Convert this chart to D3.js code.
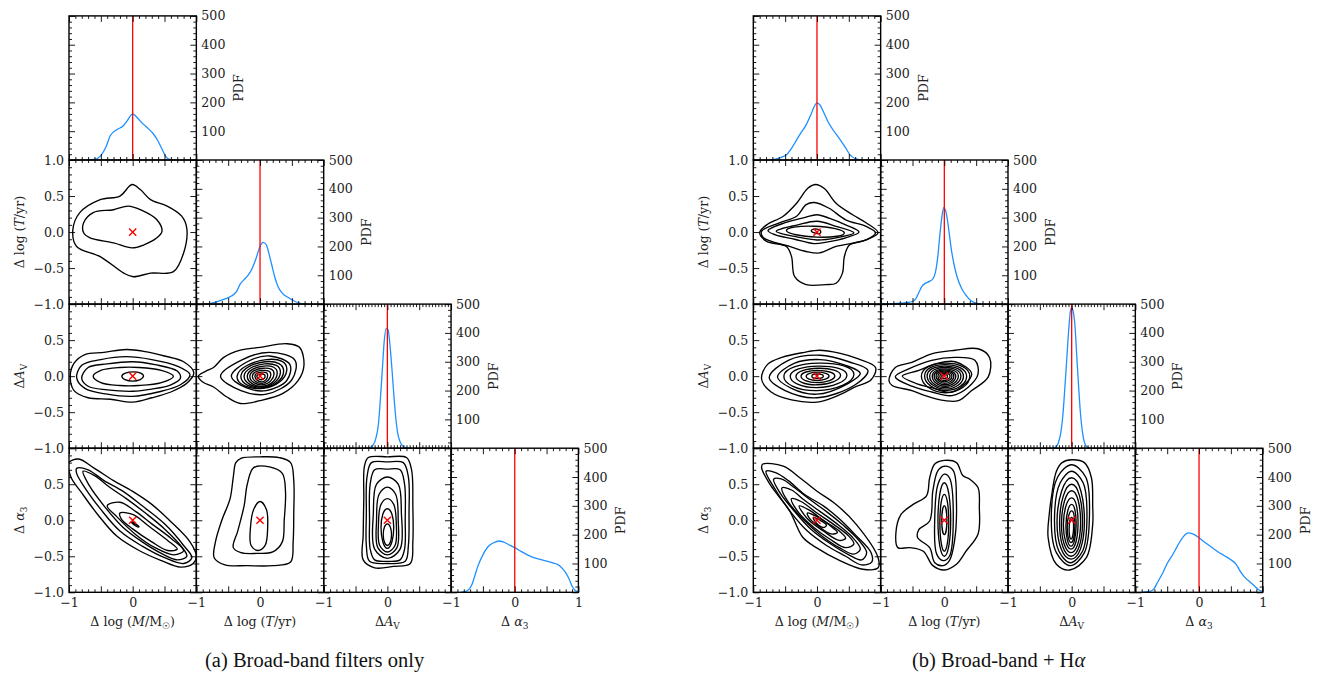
<!DOCTYPE html>
<html><head><meta charset="utf-8">
<script src="https://cdn.jsdelivr.net/npm/d3@7"></script>
<style>body{margin:0;background:#fff}svg{display:block} text{font-family:'DejaVu Serif','Liberation Serif',serif}</style>
</head><body>
<svg id="c" width="1320" height="674"></svg>
<script>
// ---------------- DATA ----------------
const xMajorTicks = [-1, -0.5, 0, 0.5, 1];
const yMajorTicks = [-1, -0.5, 0, 0.5, 1];
const pdfMajorTicks = [0, 100, 200, 300, 400, 500];
const xTickLabels = [-1, 0, 1];
const yTickLabels = [-1, -0.5, 0, 0.5, 1];
const pdfTickLabels = [100, 200, 300, 400, 500];
const captions = ["(a) Broad-band filters only", "(b) Broad-band + H"];

// 1D PDFs  [x, pdf]
const pdfA_M = [[-0.7,0],[-0.6,2],[-0.5,15],[-0.42,45],[-0.35,85],[-0.25,105],[-0.15,118],[-0.08,138],[0,160],[0.08,145],[0.15,128],[0.25,108],[0.32,92],[0.4,65],[0.46,38],[0.52,12],[0.58,2],[0.66,0]];
const pdfA_T = [[-0.9,0],[-0.8,2],[-0.68,8],[-0.55,18],[-0.45,28],[-0.37,43],[-0.31,70],[-0.25,85],[-0.18,102],[-0.12,125],[-0.06,160],[0,200],[0.05,214],[0.1,205],[0.14,175],[0.18,140],[0.23,95],[0.28,62],[0.35,38],[0.45,22],[0.55,9],[0.65,2],[0.75,0]];
const pdfA_AV = [[-0.36,0],[-0.28,2],[-0.22,12],[-0.18,35],[-0.14,85],[-0.11,170],[-0.08,270],[-0.05,370],[-0.02,415],[0.01,412],[0.04,360],[0.07,280],[0.1,190],[0.13,110],[0.16,55],[0.2,22],[0.25,6],[0.3,1],[0.36,0]];
const pdfA_a3 = [[-0.85,0],[-0.78,2],[-0.72,10],[-0.67,28],[-0.63,55],[-0.58,90],[-0.5,130],[-0.42,158],[-0.33,172],[-0.25,178],[-0.18,175],[-0.1,166],[0,155],[0.1,142],[0.2,130],[0.3,120],[0.4,114],[0.5,108],[0.6,102],[0.68,96],[0.75,82],[0.8,68],[0.85,48],[0.9,22],[0.95,6],[1.0,1]];
const pdfB_M = [[-0.75,0],[-0.65,3],[-0.55,10],[-0.47,20],[-0.4,40],[-0.32,70],[-0.25,95],[-0.17,122],[-0.1,155],[-0.05,182],[0,198],[0.05,190],[0.1,168],[0.18,130],[0.25,105],[0.35,75],[0.45,42],[0.52,18],[0.6,5],[0.7,0]];
const pdfB_T = [[-1,0],[-0.8,2],[-0.6,5],[-0.5,9],[-0.45,18],[-0.4,40],[-0.35,62],[-0.3,72],[-0.24,78],[-0.18,88],[-0.14,110],[-0.1,170],[-0.07,240],[-0.04,300],[-0.01,335],[0.02,325],[0.05,290],[0.08,240],[0.11,190],[0.15,140],[0.2,95],[0.27,55],[0.35,28],[0.42,12],[0.5,3],[0.58,0]];
const pdfB_AV = [[-0.3,0],[-0.25,4],[-0.21,18],[-0.17,55],[-0.14,110],[-0.11,200],[-0.08,300],[-0.05,400],[-0.02,475],[0,488],[0.02,478],[0.05,430],[0.08,320],[0.11,210],[0.14,115],[0.17,55],[0.2,20],[0.24,5],[0.3,0]];
const pdfB_a3 = [[-0.9,0],[-0.8,2],[-0.72,9],[-0.65,35],[-0.57,67],[-0.5,100],[-0.41,132],[-0.34,160],[-0.28,183],[-0.22,200],[-0.17,206],[-0.1,203],[0,189],[0.1,172],[0.2,156],[0.3,140],[0.4,127],[0.5,113],[0.58,98],[0.65,72],[0.72,52],[0.8,36],[0.87,22],[0.93,10],[1.0,3]];

// 2D contours, each a closed list of [x, y] points
const contA_T_M = [
 [[-0.01,0.66],[0.12,0.59],[0.28,0.45],[0.54,0.36],[0.77,0.22],[0.85,0.05],[0.8,-0.29],[0.64,-0.55],[0.28,-0.57],[0.01,-0.62],[-0.14,-0.57],[-0.51,-0.34],[-0.88,-0.2],[-0.94,0.03],[-0.83,0.27],[-0.51,0.45],[-0.2,0.5]],
 [[-0.77,0.13],[-0.62,0.27],[-0.3,0.31],[-0.07,0.36],[0.12,0.31],[0.38,0.17],[0.46,0.01],[0.38,-0.08],[0.17,-0.18],[-0.01,-0.22],[-0.3,-0.15],[-0.67,-0.08],[-0.77,-0.01]]
];
const contA_AV_M = [
 [[-0.98,0.0],[-0.92,0.18],[-0.75,0.3],[-0.45,0.33],[-0.1,0.37],[0.2,0.34],[0.5,0.28],[0.8,0.2],[0.96,0.05],[0.85,-0.1],[0.6,-0.22],[0.3,-0.3],[0,-0.36],[-0.35,-0.32],[-0.7,-0.3],[-0.92,-0.2]],
 [[-0.88,-0.02],[-0.8,0.15],[-0.5,0.23],[-0.1,0.27],[0.3,0.23],[0.7,0.14],[0.9,0.02],[0.75,-0.12],[0.4,-0.22],[0,-0.28],[-0.4,-0.25],[-0.75,-0.17]],
 [[-0.8,-0.03],[-0.7,0.12],[-0.4,0.17],[0,0.2],[0.35,0.16],[0.7,0.07],[0.75,-0.03],[0.6,-0.12],[0.3,-0.18],[0,-0.21],[-0.4,-0.19],[-0.7,-0.14]],
 [[-0.62,0.0],[-0.5,0.08],[-0.2,0.12],[0.1,0.12],[0.45,0.08],[0.64,0.0],[0.45,-0.09],[0.1,-0.13],[-0.2,-0.13],[-0.5,-0.09]],
 [[-0.17,0.0],[0.01,0.06],[0.17,0.0],[0.0,-0.07]]
];
const contA_AV_T = [
 [[-0.97,0.0],[-0.85,0.07],[-0.73,0.12],[-0.57,0.26],[-0.31,0.36],[0,0.4],[0.42,0.45],[0.62,0.4],[0.69,0.15],[0.6,-0.06],[0.36,-0.24],[0,-0.34],[-0.31,-0.38],[-0.52,-0.29],[-0.73,-0.15],[-0.9,-0.08]],
 [[-0.62,0.0],[-0.3,0.22],[0.15,0.33],[0.55,0.22],[0.5,-0.05],[0.1,-0.25],[-0.3,-0.2]],
 [[-0.45,0.0],[-0.2,0.2],[0.15,0.28],[0.47,0.16],[0.42,-0.06],[0.1,-0.2],[-0.22,-0.16]],
 [[-0.36,0.0],[0.1,0.23],[0.42,0.08],[0.05,-0.17]],
 [[-0.3,0.0],[0.08,0.2],[0.37,0.06],[0.05,-0.16]],
 [[-0.25,0.0],[0.07,0.17],[0.32,0.05],[0.05,-0.15]],
 [[-0.2,0.0],[0.06,0.14],[0.27,0.04],[0.05,-0.14]],
 [[-0.16,0.0],[0.05,0.11],[0.22,0.03],[0.04,-0.12]],
 [[-0.12,0.0],[0.04,0.08],[0.17,0.02],[0.03,-0.1]],
 [[-0.08,0.0],[0.03,0.055],[0.12,0.01],[0.03,-0.08]],
 [[-0.05,0.0],[0.02,0.03],[0.08,0.0],[0.02,-0.05]]
];
const contA_a3_M = [
 [[-1,0.8],[-0.85,0.85],[-0.6,0.72],[-0.3,0.55],[0.0,0.4],[0.3,0.22],[0.6,-0.02],[0.9,-0.3],[1.0,-0.5],[0.95,-0.6],[0.75,-0.65],[0.45,-0.56],[0.1,-0.42],[-0.25,-0.22],[-0.55,0.08],[-0.8,0.38],[-0.97,0.6]],
 [[-0.88,0.72],[-0.7,0.7],[-0.45,0.55],[-0.15,0.4],[0.15,0.2],[0.5,-0.05],[0.8,-0.35],[0.93,-0.52],[0.8,-0.6],[0.5,-0.52],[0.15,-0.36],[-0.2,-0.15],[-0.5,0.15],[-0.75,0.45],[-0.88,0.65]],
 [[-0.78,0.68],[-0.6,0.62],[-0.35,0.45],[-0.1,0.3],[0.2,0.1],[0.5,-0.12],[0.78,-0.38],[0.85,-0.5],[0.7,-0.55],[0.45,-0.46],[0.15,-0.3],[-0.15,-0.1],[-0.45,0.2],[-0.68,0.48]],
 [[-0.4,0.2],[-0.2,0.25],[0.05,0.12],[0.3,-0.05],[0.6,-0.25],[0.8,-0.42],[0.65,-0.48],[0.35,-0.38],[0.05,-0.2],[-0.25,0.05]],
 [[-0.2,0.1],[0.0,0.08],[0.25,-0.08],[0.55,-0.28],[0.7,-0.4],[0.55,-0.42],[0.3,-0.3],[0.0,-0.12],[-0.18,0.02]],
 [[-0.02,-0.02],[0.06,-0.06],[0.1,-0.09],[0.05,-0.08]]
];
const contA_a3_T = [
 [[-0.3,0.86],[0.0,0.88],[0.3,0.87],[0.48,0.8],[0.53,0.55],[0.53,0.1],[0.52,-0.3],[0.48,-0.58],[0.2,-0.63],[-0.2,-0.63],[-0.55,-0.62],[-0.72,-0.52],[-0.7,-0.3],[-0.6,0.0],[-0.47,0.3],[-0.42,0.6],[-0.38,0.8]],
 [[-0.1,0.73],[0.15,0.74],[0.35,0.65],[0.4,0.4],[0.38,0.0],[0.35,-0.3],[0.2,-0.44],[-0.05,-0.46],[-0.3,-0.45],[-0.42,-0.38],[-0.35,-0.15],[-0.25,0.2],[-0.2,0.5]],
 [[0.0,0.26],[0.1,0.15],[0.12,-0.1],[0.08,-0.35],[-0.03,-0.42],[-0.14,-0.35],[-0.15,-0.1],[-0.1,0.15]]
];
const contA_a3_AV = [
 [[-0.3,0.87],[0.0,0.88],[0.3,0.87],[0.38,0.7],[0.4,0.2],[0.4,-0.3],[0.36,-0.6],[0.1,-0.64],[-0.2,-0.66],[-0.38,-0.55],[-0.38,-0.2],[-0.37,0.3],[-0.36,0.75]],
 [[-0.25,0.8],[0,0.81],[0.25,0.8],[0.33,0.6],[0.34,0.1],[0.33,-0.35],[0.28,-0.57],[0,-0.6],[-0.28,-0.57],[-0.33,-0.35],[-0.33,0.1],[-0.32,0.6]],
 [[-0.2,0.7],[0,0.71],[0.2,0.7],[0.27,0.5],[0.28,0.0],[0.27,-0.4],[0.2,-0.55],[0,-0.57],[-0.2,-0.55],[-0.27,-0.4],[-0.28,0.0],[-0.27,0.5]],
 [[0,0.6],[0.17,0.5],[0.22,0.1],[0.2,-0.4],[0,-0.53],[-0.2,-0.4],[-0.22,0.1],[-0.17,0.5]],
 [[0,0.46],[0.13,0.36],[0.17,0.0],[0.15,-0.38],[0,-0.48],[-0.15,-0.38],[-0.17,0],[-0.13,0.36]],
 [[0,0.3],[0.1,0.22],[0.14,-0.05],[0.12,-0.35],[0,-0.44],[-0.12,-0.35],[-0.14,-0.05],[-0.1,0.22]],
 [[-0.1,-0.1],[0,0.16],[0.1,-0.1],[0,-0.39]],
 [[-0.065,-0.2],[0,-0.05],[0.065,-0.2],[0,-0.35]]
];
const contB_T_M = [
 [[-0.02,0.66],[0.12,0.6],[0.3,0.4],[0.56,0.24],[0.77,0.13],[0.96,-0.01],[0.77,-0.11],[0.51,-0.18],[0.43,-0.34],[0.4,-0.57],[0.3,-0.71],[0.14,-0.73],[-0.17,-0.73],[-0.35,-0.62],[-0.4,-0.34],[-0.48,-0.2],[-0.79,-0.13],[-0.9,-0.01],[-0.79,0.1],[-0.53,0.22],[-0.32,0.4],[-0.14,0.61]],
 [[-0.04,0.41],[0.19,0.33],[0.45,0.17],[0.77,0.08],[0.92,-0.01],[0.77,-0.11],[0.3,-0.2],[0.04,-0.29],[-0.17,-0.27],[-0.43,-0.2],[-0.84,-0.08],[-0.87,0.01],[-0.58,0.13],[-0.32,0.22],[-0.17,0.38]],
 [[-0.77,0.02],[-0.5,0.13],[-0.2,0.2],[0.0,0.24],[0.2,0.19],[0.45,0.1],[0.66,0.0],[0.45,-0.08],[0.15,-0.14],[-0.05,-0.16],[-0.35,-0.1],[-0.65,-0.04]],
 [[-0.64,0.01],[-0.3,0.1],[0,0.15],[0.3,0.08],[0.58,-0.01],[0.3,-0.08],[0,-0.11],[-0.3,-0.07]],
 [[-0.48,0.02],[-0.04,0.08],[0.43,-0.01],[0,-0.07]],
 [[-0.09,0.02],[0,0.04],[0.06,0.0],[0,-0.02]]
];
const contB_AV_M = [
 [[-0.87,-0.04],[-0.78,0.16],[-0.55,0.26],[-0.2,0.33],[0.04,0.36],[0.35,0.32],[0.65,0.24],[0.92,0.12],[0.85,-0.05],[0.6,-0.15],[0.3,-0.28],[0.0,-0.36],[-0.4,-0.33],[-0.72,-0.22]],
 [[-0.75,-0.02],[-0.45,0.22],[0.05,0.29],[0.5,0.2],[0.8,0.08],[0.6,-0.12],[0.0,-0.3],[-0.5,-0.2]],
 [[-0.62,-0.01],[-0.35,0.18],[0.05,0.23],[0.45,0.15],[0.68,0.04],[0.45,-0.12],[0.0,-0.25],[-0.4,-0.17]],
 [[-0.52,0.0],[0.03,0.18],[0.58,0.02],[0.0,-0.2]],
 [[-0.42,0.0],[0.02,0.14],[0.47,0.01],[0.0,-0.16]],
 [[-0.33,0.0],[0.02,0.11],[0.37,0.01],[0.0,-0.12]],
 [[-0.25,0.0],[0.01,0.08],[0.28,0.0],[0.0,-0.09]],
 [[-0.17,0.0],[0.01,0.055],[0.19,0.0],[0.0,-0.06]],
 [[-0.08,0.0],[0.0,0.03],[0.1,0.0],[0.0,-0.03]]
];
const contB_AV_T = [
 [[-0.87,-0.06],[-0.77,0.12],[-0.51,0.19],[-0.2,0.31],[0.17,0.36],[0.53,0.38],[0.71,0.26],[0.69,-0.01],[0.43,-0.2],[0.22,-0.34],[0.01,-0.34],[-0.3,-0.27],[-0.51,-0.2],[-0.82,-0.13]],
 [[-0.77,-0.01],[-0.56,0.1],[-0.2,0.22],[0.17,0.26],[0.48,0.22],[0.53,0.03],[0.38,-0.15],[0.12,-0.27],[-0.2,-0.22],[-0.51,-0.14]],
 [[-0.66,0.0],[-0.4,0.08],[-0.14,0.17],[0.17,0.2],[0.43,0.03],[0.12,-0.22],[-0.2,-0.16],[-0.45,-0.1]],
 [[-0.36,0.0],[0.02,0.18],[0.4,0.0],[0.02,-0.23]],
 [[-0.31,0.0],[0.01,0.16],[0.35,0.0],[0.02,-0.2]],
 [[-0.27,0.0],[0.01,0.14],[0.3,0.0],[0.02,-0.18]],
 [[-0.23,0.0],[0.01,0.12],[0.26,0.0],[0.01,-0.16]],
 [[-0.19,0.0],[0.01,0.1],[0.22,0.0],[0.01,-0.14]],
 [[-0.16,0.0],[0.0,0.085],[0.18,0.0],[0.01,-0.12]],
 [[-0.13,0.0],[0.0,0.07],[0.15,0.0],[0.01,-0.1]],
 [[-0.1,0.0],[0.0,0.055],[0.12,0.0],[0.0,-0.08]],
 [[-0.07,0.0],[0.0,0.04],[0.09,0.0],[0.0,-0.06]],
 [[-0.04,0.0],[0.0,0.025],[0.05,0.0],[0.0,-0.035]]
];
const contB_a3_M = [
 [[-0.87,0.73],[-0.85,0.78],[-0.53,0.75],[-0.27,0.59],[-0.01,0.41],[0.3,0.22],[0.62,-0.06],[0.96,-0.52],[0.96,-0.66],[0.72,-0.68],[0.36,-0.56],[-0.01,-0.38],[-0.22,-0.24],[-0.43,0.13],[-0.74,0.5]],
 [[-0.8,0.68],[-0.65,0.66],[-0.45,0.55],[-0.2,0.36],[0.1,0.2],[0.35,0.02],[0.6,-0.2],[0.85,-0.45],[0.86,-0.58],[0.7,-0.62],[0.45,-0.5],[0.15,-0.35],[-0.15,-0.15],[-0.4,0.1],[-0.65,0.42]],
 [[-0.68,0.57],[-0.55,0.57],[-0.35,0.45],[-0.1,0.28],[0.15,0.12],[0.4,-0.06],[0.65,-0.27],[0.78,-0.45],[0.7,-0.55],[0.5,-0.48],[0.2,-0.32],[-0.1,-0.12],[-0.35,0.12],[-0.58,0.38]],
 [[-0.55,0.45],[-0.4,0.42],[-0.2,0.28],[0.05,0.12],[0.3,-0.04],[0.55,-0.23],[0.68,-0.4],[0.58,-0.47],[0.35,-0.38],[0.05,-0.2],[-0.2,0.0],[-0.45,0.25]],
 [[-0.4,0.3],[-0.25,0.26],[0.0,0.1],[0.25,-0.05],[0.5,-0.22],[0.58,-0.33],[0.45,-0.38],[0.2,-0.26],[-0.05,-0.1],[-0.3,0.12]],
 [[-0.28,0.2],[-0.12,0.14],[0.1,0.0],[0.35,-0.15],[0.45,-0.25],[0.35,-0.28],[0.1,-0.15],[-0.15,0.02]],
 [[-0.15,0.1],[0,0.05],[0.2,-0.07],[0.32,-0.17],[0.22,-0.19],[0.02,-0.08],[-0.12,0.03]],
 [[-0.06,0.04],[0.05,0.0],[0.15,-0.07],[0.1,-0.1],[0.0,-0.05]]
];
const contB_a3_T = [
 [[0.0,0.83],[0.19,0.8],[0.29,0.62],[0.4,0.57],[0.53,0.45],[0.55,0.18],[0.53,-0.19],[0.34,-0.43],[0.19,-0.61],[0.0,-0.69],[-0.18,-0.63],[-0.33,-0.43],[-0.54,-0.38],[-0.73,-0.38],[-0.76,-0.17],[-0.68,0.08],[-0.49,0.22],[-0.28,0.34],[-0.23,0.59],[-0.15,0.78]],
 [[0.0,0.75],[0.14,0.69],[0.19,0.27],[0.16,-0.29],[0.08,-0.56],[-0.02,-0.63],[-0.15,-0.59],[-0.23,-0.38],[-0.42,-0.24],[-0.4,-0.13],[-0.23,-0.01],[-0.18,0.41],[-0.1,0.69]],
 [[0.0,0.64],[0.08,0.59],[0.14,-0.01],[0.08,-0.5],[-0.02,-0.56],[-0.12,-0.47],[-0.15,0.04],[-0.1,0.5]],
 [[-0.1,0.0],[0,0.52],[0.1,0.0],[0,-0.5]],
 [[-0.07,-0.03],[0,0.36],[0.07,-0.03],[0,-0.43]],
 [[-0.04,0.0],[0,0.2],[0.04,0.0],[0,-0.2]]
];
const contB_a3_AV = [
 [[0.0,0.84],[0.2,0.8],[0.31,0.59],[0.33,0.2],[0.33,-0.06],[0.23,-0.52],[-0.03,-0.69],[-0.24,-0.61],[-0.37,-0.24],[-0.35,0.1],[-0.32,0.31],[-0.24,0.68],[-0.15,0.8]],
 [[0,0.77],[0.22,0.6],[0.28,0.1],[0.2,-0.45],[-0.02,-0.63],[-0.24,-0.45],[-0.32,0.0],[-0.22,0.6]],
 [[0,0.68],[0.18,0.52],[0.24,0.05],[0.17,-0.43],[-0.02,-0.59],[-0.2,-0.43],[-0.27,0.0],[-0.18,0.52]],
 [[-0.23,-0.02],[0,0.59],[0.2,-0.02],[-0.01,-0.54]],
 [[-0.19,-0.03],[0,0.5],[0.17,-0.03],[-0.01,-0.5]],
 [[-0.16,-0.04],[0,0.41],[0.14,-0.04],[-0.01,-0.45]],
 [[-0.13,-0.05],[0,0.31],[0.1,-0.05],[-0.01,-0.4]],
 [[-0.09,-0.07],[0,0.22],[0.07,-0.07],[-0.01,-0.36]],
 [[-0.07,-0.09],[0,0.13],[0.05,-0.09],[-0.01,-0.31]],
 [[-0.04,-0.11],[0,0.04],[0.03,-0.11],[-0.01,-0.26]]
];
const truth = [0, 0];

// ---------------- LAYOUT ----------------
const W = 127.35, H = 144.1, TOP = 15.9;
const FONT = "'DejaVu Serif', 'Liberation Serif', serif";
const CAPFONT = "'Liberation Serif', 'Times New Roman', serif";
const figs = [
  {x0: 69, capX: 205, cap: captions[0], alpha: false,
   pdfs: [pdfA_M, pdfA_T, pdfA_AV, pdfA_a3],
   cont: {"1,0": contA_T_M, "2,0": contA_AV_M, "2,1": contA_AV_T, "3,0": contA_a3_M, "3,1": contA_a3_T, "3,2": contA_a3_AV}},
  {x0: 753.3, capX: 912, cap: captions[1], alpha: true,
   pdfs: [pdfB_M, pdfB_T, pdfB_AV, pdfB_a3],
   cont: {"1,0": contB_T_M, "2,0": contB_AV_M, "2,1": contB_AV_T, "3,0": contB_a3_M, "3,1": contB_a3_T, "3,2": contB_a3_AV}}
];

const svg = d3.select("#c");
const defs = svg.append("defs");
const r2 = v => Math.round(v * 1000) / 1000;
const rangeStep = (a, b, s) => d3.range(Math.round((b - a) / s) + 1).map(i => r2(a + i * s));
const minus = s => s.replace("-", "\u2212");
const has = (arr, d) => arr.some(v => Math.abs(v - d) < 1e-9);

function drawAxis(parent, gen, scale, tf, values, size, labels, fmt, pad) {
  const ax = gen(scale).tickValues(values).tickSizeInner(-size).tickSizeOuter(0).tickPadding(pad)
    .tickFormat(d => labels && has(labels, d) ? fmt(d) : "");
  const g = parent.append("g").attr("transform", tf).call(ax);
  g.attr("font-family", null).attr("font-size", null);
  g.select(".domain").remove();
  g.selectAll("line").attr("stroke", "#000").attr("stroke-width", 0.9);
  g.selectAll("text").attr("fill", "#222").style("font-family", FONT).style("font-size", "12.6px");
}

const fmtX = d => minus(String(d));
const fmtY = d => minus(d.toFixed(1));
const fmtP = d => String(d);

function contourPath(x, y) {
  return pts => {
    const curve = pts.length <= 4 ? d3.curveCardinalClosed.tension(-0.66) : d3.curveCatmullRomClosed.alpha(0.5);
    return d3.line().x(d => x(d[0])).y(d => y(d[1])).curve(curve)(pts);
  };
}

figs.forEach((f, fi) => {
  for (let r = 0; r < 4; r++) for (let c = 0; c <= r; c++) {
    const px = f.x0 + c * W, py = TOP + r * H;
    const diag = r === c;
    const x = d3.scaleLinear().domain([-1, 1]).range([px, px + W]);
    const y = diag ? d3.scaleLinear().domain([0, 500]).range([py + H, py])
                   : d3.scaleLinear().domain([-1, 1]).range([py + H, py]);
    const id = `clip${fi}${r}${c}`;
    defs.append("clipPath").attr("id", id).append("rect")
      .attr("x", px).attr("y", py).attr("width", W).attr("height", H);
    const g = svg.append("g");
    const content = g.append("g").attr("clip-path", `url(#${id})`);
    if (diag) {
      content.append("path").datum(f.pdfs[r])
        .attr("d", d3.line().x(d => x(d[0])).y(d => y(d[1])).curve(d3.curveMonotoneX))
        .attr("fill", "none").attr("stroke", "#1e90ff").attr("stroke-width", 1.3);
      content.append("line").attr("x1", x(truth[0])).attr("x2", x(truth[0]))
        .attr("y1", y(0)).attr("y2", y(500)).attr("stroke", "#ff0000").attr("stroke-width", 1.3);
    } else {
      const cp = contourPath(x, y);
      content.selectAll("path.ct").data(f.cont[`${r},${c}`]).join("path").attr("class", "ct")
        .attr("d", cp).attr("fill", "none").attr("stroke", "#000").attr("stroke-width", 1.35)
        .attr("stroke-linejoin", "round");
      const cx = x(truth[0]), cy = y(truth[1]), s = 3.6;
      content.append("path").attr("d", `M${cx - s},${cy - s}L${cx + s},${cy + s}M${cx - s},${cy + s}L${cx + s},${cy - s}`)
        .attr("stroke", "#ff0000").attr("stroke-width", 1.4).attr("fill", "none");
    }
    // ticks
    const xMinorStep = diag && r === 2 ? 0.05 : 0.1;
    const xMinor = rangeStep(-1, 1, xMinorStep).filter(v => !has(xMajorTicks, v));
    const yMaj = diag ? pdfMajorTicks : yMajorTicks;
    const yMinor = diag ? rangeStep(0, 500, 20).filter(v => !has(pdfMajorTicks, v))
                        : rangeStep(-1, 1, 0.1).filter(v => !has(yMajorTicks, v));
    const xLab = r === 3 ? (c === 3 ? xTickLabels : [-1, 0]) : null;
    const yLab = (!diag && c === 0) ? (r === 1 ? yTickLabels : yTickLabels.filter(v => v < 1)) : null;
    const pLab = diag ? pdfTickLabels : null;
    drawAxis(g, d3.axisBottom, x, `translate(0,${py + H})`, xMajorTicks, 6, xLab, fmtX, 6);
    drawAxis(g, d3.axisBottom, x, `translate(0,${py + H})`, xMinor, 3, null, fmtX, 6);
    drawAxis(g, d3.axisTop, x, `translate(0,${py})`, xMajorTicks, 6, null, fmtX, 6);
    drawAxis(g, d3.axisTop, x, `translate(0,${py})`, xMinor, 3, null, fmtX, 6);
    drawAxis(g, d3.axisLeft, y, `translate(${px},0)`, yMaj, 6, yLab, fmtY, 5);
    drawAxis(g, d3.axisLeft, y, `translate(${px},0)`, yMinor, 3, null, fmtY, 5);
    drawAxis(g, d3.axisRight, y, `translate(${px + W},0)`, yMaj, 6, pLab, fmtP, 5);
    drawAxis(g, d3.axisRight, y, `translate(${px + W},0)`, yMinor, 3, null, fmtP, 5);
    g.append("rect").attr("x", px).attr("y", py).attr("width", W).attr("height", H)
      .attr("fill", "none").attr("stroke", "#000").attr("stroke-width", 1.4);
    if (diag) {
      g.append("text").attr("transform", `translate(${px + W + 47},${py + H / 2}) rotate(-90)`)
        .attr("text-anchor", "middle").style("font-family", FONT).style("font-size", "12.6px")
        .attr("fill", "#222").text("PDF");
    }
  }
  // axis titles
  const lab = (t, parts) => { parts.forEach(p => { const s = t.append("tspan").text(p.t);
      if (p.i) s.style("font-style", "italic");
      if (p.sub) s.style("font-size", "9px").attr("dy", 3);
      if (p.up) s.attr("dy", -3); }); };
  const xTitles = [
    [{t: "\u0394 log ("}, {t: "M", i: 1}, {t: "/M"}, {t: "\u2609", sub: 1}, {t: ")", up: 1}],
    [{t: "\u0394 log ("}, {t: "T", i: 1}, {t: "/yr)"}],
    [{t: "\u0394"}, {t: "A", i: 1}, {t: "V", sub: 1}],
    [{t: "\u0394 "}, {t: "\u03b1", i: 1}, {t: "3", sub: 1}]
  ];
  xTitles.forEach((p, c) => {
    const t = svg.append("text").attr("x", f.x0 + c * W + W / 2).attr("y", 626)
      .attr("text-anchor", "middle").style("font-family", FONT).style("font-size", "12.6px").attr("fill", "#222");
    lab(t, p);
  });
  [1, 2, 3].forEach(r => {
    const t = svg.append("text").attr("transform", `translate(${f.x0 - 45},${TOP + r * H + H / 2}) rotate(-90)`)
      .attr("text-anchor", "middle").style("font-family", FONT).style("font-size", "12.6px").attr("fill", "#222");
    lab(t, xTitles[r]);
  });
  const cap = svg.append("text").attr("x", f.capX).attr("y", 667)
    .style("font-family", CAPFONT).style("font-size", "20.5px").attr("fill", "#111");
  cap.append("tspan").text(f.cap);
  if (f.alpha) cap.append("tspan").style("font-style", "italic").text("\u03b1");
});
</script>
</body></html>
